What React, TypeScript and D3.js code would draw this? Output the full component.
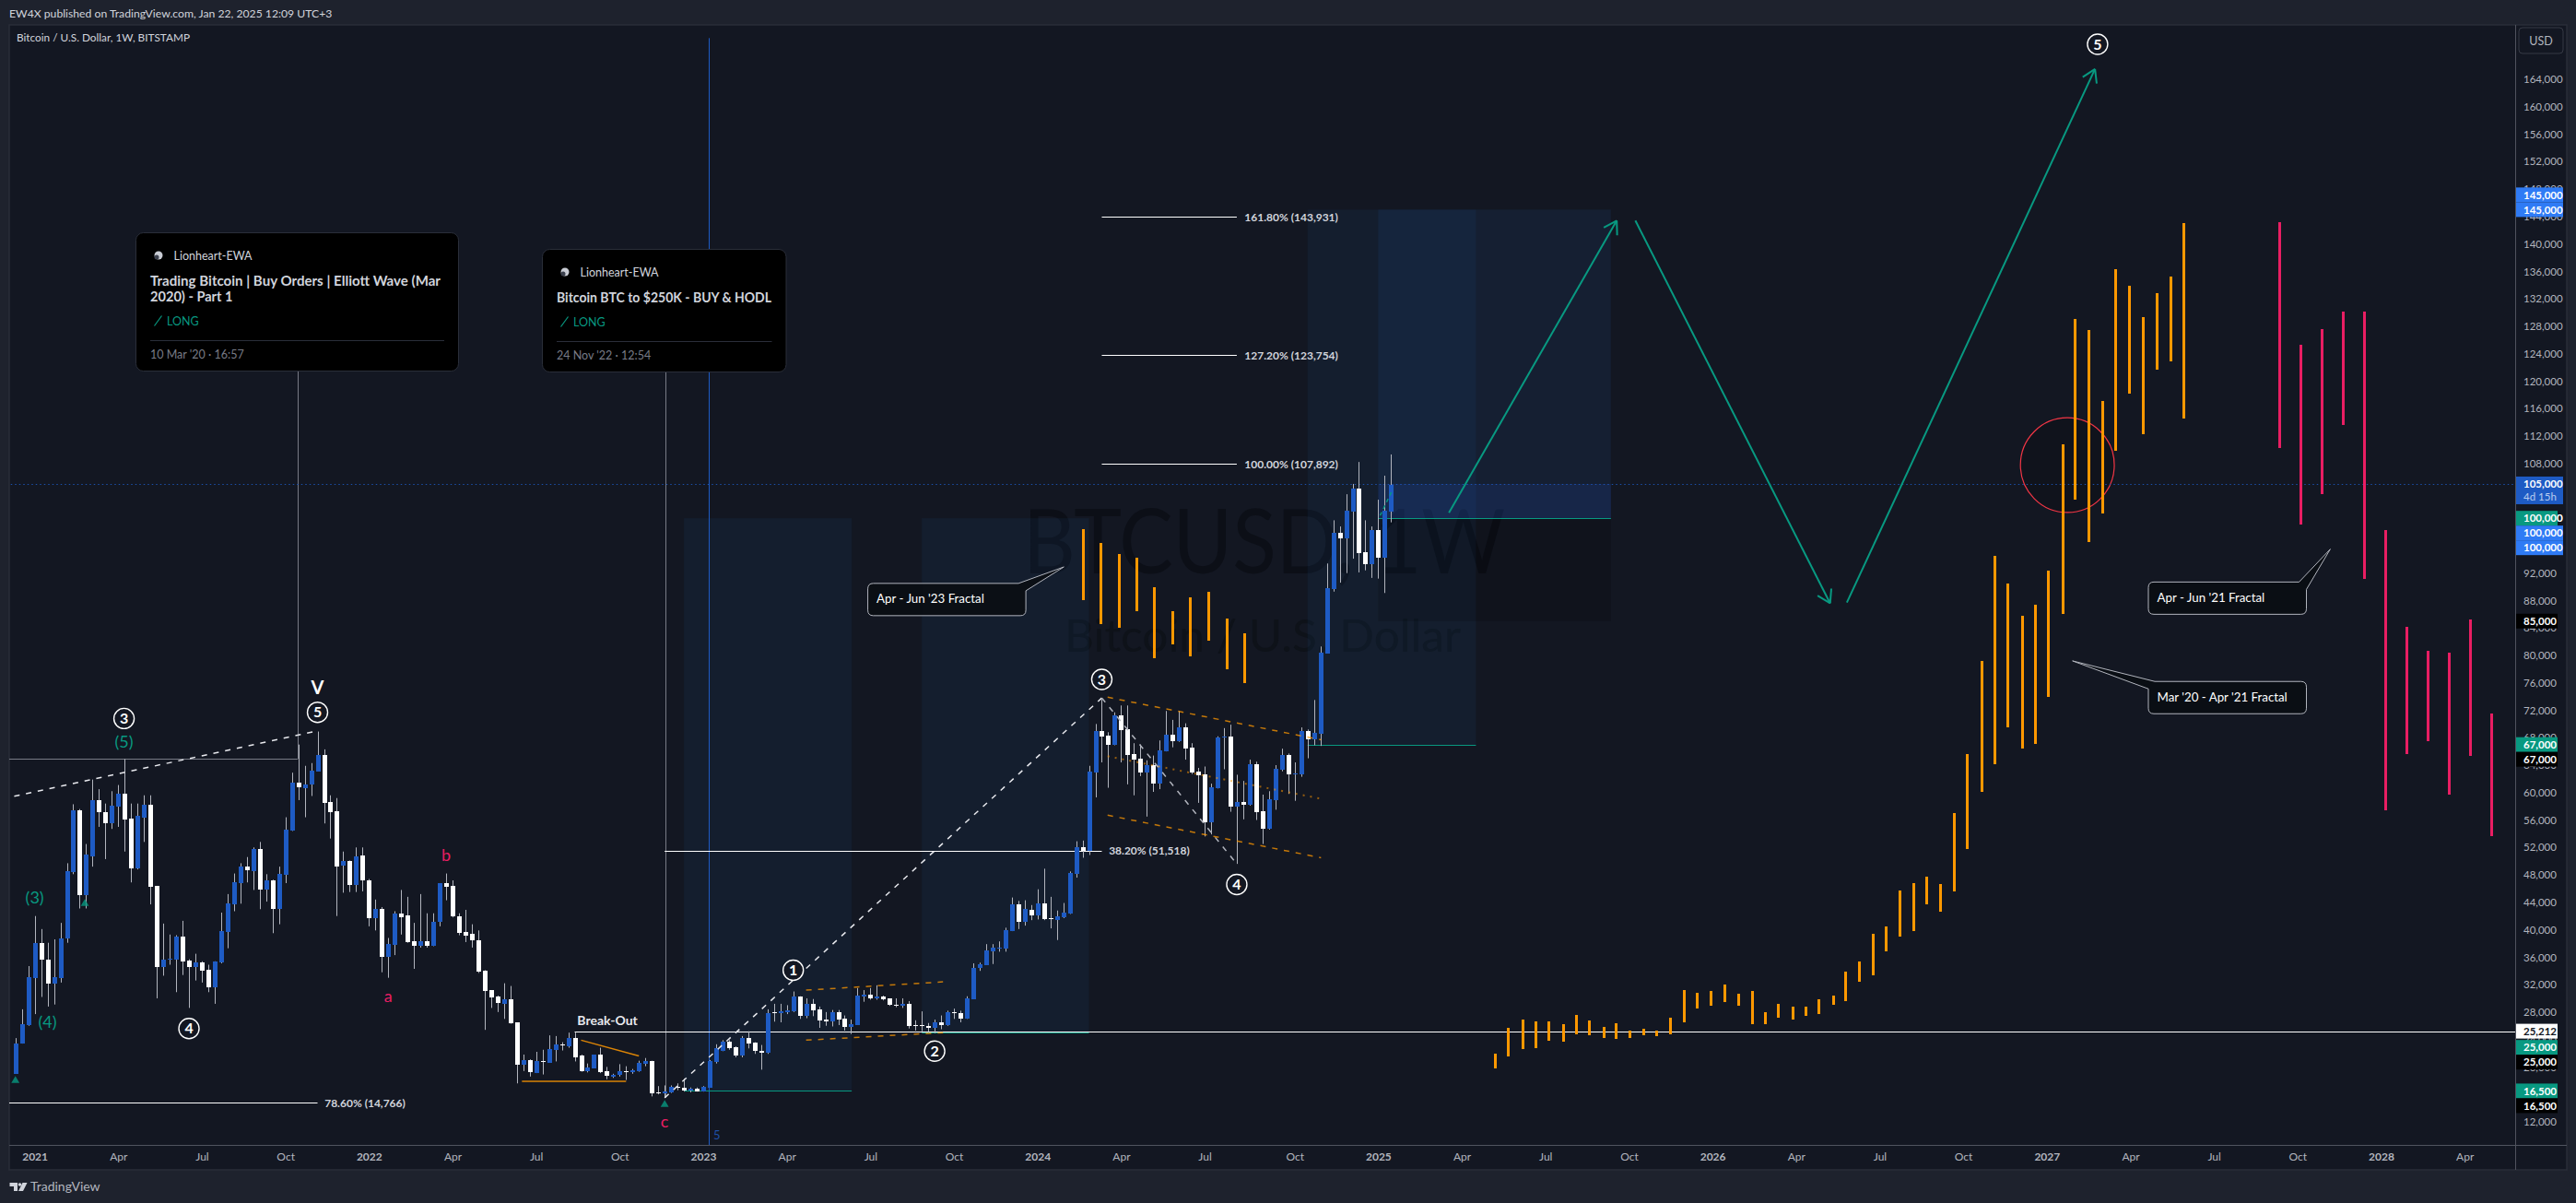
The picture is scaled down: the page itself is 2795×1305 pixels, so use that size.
/**
 * BtcWeeklyChart - Bitcoin weekly candles with Elliott Wave counts and fractal projection
 */

import { useEffect, useRef } from 'react';
import * as d3 from 'd3';

// Weekly candles, prices in thousands of USD: [open, high, low, close]. First bar is week 0 (14 Dec 2020).
const weeklyCandles: [number, number, number, number][] = [
  [19.0, 24.2, 19.0, 23.4], [23.4, 28.4, 23.4, 26.2], [26.1, 34.7, 26.0, 33.1], [33.0, 42.0, 27.7, 38.0],
  [38.0, 40.1, 30.2, 35.6], [35.7, 38.1, 28.8, 32.2], [32.2, 38.6, 29.1, 33.1], [32.9, 41.0, 32.3, 38.8],
  [38.7, 49.7, 38.1, 48.5], [48.4, 58.3, 48.1, 57.4], [57.4, 57.6, 43.1, 45.1], [45.1, 52.5, 43.1, 51.0],
  [50.7, 61.9, 49.2, 58.9], [58.9, 60.5, 55.0, 57.1], [57.2, 58.4, 50.3, 55.5], [55.5, 60.2, 54.7, 58.1],
  [57.9, 61.1, 55.0, 59.9], [59.9, 64.9, 51.4, 56.1], [56.2, 58.4, 46.9, 48.9], [48.9, 58.4, 48.8, 56.6],
  [56.4, 59.6, 52.8, 58.2], [58.2, 59.6, 43.7, 46.3], [46.4, 46.4, 30.0, 34.6], [34.6, 40.9, 33.3, 35.6],
  [35.6, 39.3, 34.9, 35.8], [35.6, 39.2, 30.9, 39.0], [39.0, 41.3, 33.4, 35.4], [35.5, 35.7, 28.6, 34.6],
  [34.6, 36.5, 32.6, 35.2], [35.2, 35.4, 32.3, 34.0], [34.2, 34.9, 30.9, 31.6], [31.6, 35.4, 29.2, 35.4],
  [35.3, 42.5, 35.1, 39.8], [39.7, 45.2, 37.3, 43.8], [43.7, 48.2, 42.7, 46.9], [46.8, 49.7, 43.8, 49.2],
  [49.2, 50.6, 46.9, 48.7], [48.6, 52.0, 45.8, 51.8], [51.8, 52.8, 43.0, 45.9], [45.9, 48.1, 44.1, 47.2],
  [47.2, 47.3, 39.5, 43.1], [43.1, 49.2, 40.8, 48.1], [48.0, 56.4, 46.8, 54.6], [54.5, 62.9, 54.4, 61.5],
  [61.5, 67.0, 58.9, 60.8], [60.6, 63.9, 56.4, 61.2], [61.2, 64.3, 59.5, 63.2], [63.1, 68.9, 63.1, 65.5],
  [65.5, 66.3, 55.5, 58.5], [58.6, 59.6, 53.3, 57.1], [57.3, 59.2, 42.0, 49.2], [49.3, 51.4, 45.4, 50.0],
  [50.0, 50.1, 45.5, 46.5], [46.5, 52.0, 45.5, 50.7], [50.8, 52.0, 45.6, 47.2], [47.2, 47.4, 40.5, 41.7],
  [41.7, 44.4, 39.9, 43.1], [43.1, 43.3, 33.8, 36.0], [36.0, 38.8, 33.0, 37.9], [37.8, 42.7, 36.3, 42.4],
  [42.4, 45.8, 39.3, 41.8], [42.1, 44.8, 38.1, 38.2], [38.3, 41.0, 34.3, 37.6], [37.6, 45.2, 37.4, 38.3],
  [38.3, 42.4, 37.4, 37.7], [37.6, 42.4, 37.6, 41.1], [41.1, 46.8, 40.5, 46.8], [46.8, 48.2, 44.3, 46.3],
  [46.4, 47.2, 41.8, 41.9], [42.0, 42.4, 39.2, 39.5], [39.7, 42.9, 38.2, 39.2], [39.4, 40.8, 37.4, 38.4],
  [38.4, 39.9, 33.7, 33.9], [34.0, 34.1, 25.4, 31.1], [31.2, 31.2, 28.6, 30.1], [30.2, 30.4, 28.0, 29.3],
  [29.2, 32.2, 27.0, 29.8], [29.8, 31.8, 26.3, 26.4], [26.5, 26.5, 17.6, 20.3], [20.3, 21.8, 19.4, 21.0],
  [21.0, 21.1, 18.6, 19.2], [19.1, 22.2, 19.1, 20.9], [20.9, 22.5, 18.9, 20.8], [20.6, 24.6, 20.6, 22.6],
  [22.5, 24.5, 20.8, 23.3], [23.3, 23.6, 22.4, 23.2], [23.0, 25.0, 22.8, 24.2], [24.2, 25.0, 20.8, 21.4],
  [21.6, 21.8, 19.3, 19.4], [19.4, 20.5, 19.2, 19.9], [19.8, 21.8, 19.8, 21.8], [21.8, 22.8, 19.1, 19.2],
  [19.4, 20.0, 18.2, 18.7], [18.6, 19.0, 18.4, 18.9], [18.9, 20.4, 18.6, 19.4], [19.4, 20.1, 18.1, 19.2],
  [19.2, 19.7, 19.0, 19.5], [19.4, 20.9, 19.3, 20.6], [20.4, 21.3, 20.1, 20.8], [20.9, 20.9, 15.7, 16.2],
  [16.3, 17.2, 16.0, 16.2], [16.1, 17.3, 15.5, 16.4], [16.3, 17.3, 16.2, 17.1], [17.1, 17.6, 16.6, 17.0],
  [17.0, 18.3, 16.4, 16.6], [16.7, 17.0, 16.3, 16.8], [16.8, 17.0, 16.4, 16.4], [16.4, 17.2, 16.4, 17.1],
  [17.0, 21.0, 17.0, 20.8], [20.7, 23.3, 20.5, 22.7], [22.4, 23.9, 22.3, 23.7], [23.7, 23.9, 22.5, 22.7],
  [22.9, 23.0, 21.4, 21.6], [21.6, 24.5, 21.4, 24.2], [24.2, 25.2, 22.7, 23.4], [23.5, 23.6, 21.9, 22.3],
  [22.3, 23.2, 19.6, 22.1], [22.1, 28.4, 21.9, 27.9], [28.0, 29.2, 26.6, 27.9], [27.9, 29.2, 26.5, 28.1],
  [28.0, 29.0, 27.7, 28.3], [28.1, 31.0, 28.0, 30.2], [30.2, 30.3, 27.0, 27.5], [27.5, 30.0, 27.1, 29.2],
  [29.2, 29.9, 27.4, 28.3], [28.4, 28.8, 25.7, 26.8], [26.9, 28.0, 26.0, 26.6], [26.7, 28.3, 25.9, 28.0],
  [28.0, 28.3, 26.1, 26.9], [27.0, 27.5, 25.3, 25.8], [25.8, 26.9, 24.8, 26.2], [26.1, 31.5, 26.1, 30.4],
  [30.3, 31.2, 29.5, 30.5], [30.5, 31.5, 29.8, 30.0], [30.1, 31.9, 29.8, 30.2], [30.3, 30.4, 29.7, 29.9],
  [30.0, 30.0, 28.9, 29.0], [29.1, 30.0, 28.7, 28.9], [28.9, 30.0, 28.6, 29.2], [29.2, 29.6, 25.6, 26.0],
  [26.1, 26.8, 25.3, 26.0], [26.1, 28.1, 25.2, 26.0], [25.9, 26.4, 25.1, 25.7], [25.7, 26.9, 24.9, 26.5],
  [26.5, 27.5, 25.5, 26.1], [26.1, 28.2, 26.0, 28.0], [28.0, 28.5, 27.0, 27.9], [27.9, 28.2, 26.5, 27.0],
  [27.0, 30.3, 27.0, 30.0], [29.9, 35.1, 29.9, 34.4], [34.4, 35.2, 34.0, 35.0], [34.9, 37.9, 34.9, 37.0],
  [36.9, 37.9, 35.0, 37.4], [37.3, 38.3, 36.8, 37.4], [37.3, 40.3, 36.8, 40.0], [39.8, 44.7, 39.8, 43.7],
  [43.7, 44.2, 40.1, 41.2], [41.2, 44.3, 40.6, 43.0], [42.9, 43.6, 41.4, 42.1], [42.1, 45.9, 41.5, 43.8],
  [43.8, 48.9, 41.4, 41.6], [41.7, 44.8, 40.2, 41.5], [41.4, 42.8, 38.5, 42.0], [41.8, 43.9, 41.7, 42.5],
  [42.4, 48.5, 42.3, 48.3], [48.2, 52.9, 47.6, 52.0], [52.0, 53.0, 50.5, 51.5], [51.5, 63.9, 50.9, 63.1],
  [62.9, 70.0, 59.3, 69.0], [69.0, 73.6, 64.4, 68.2], [68.3, 68.8, 60.7, 67.0], [67.0, 71.7, 66.9, 71.3],
  [71.3, 72.7, 64.4, 69.1], [69.2, 72.7, 61.2, 65.5], [65.6, 67.2, 59.6, 64.8], [64.9, 67.0, 62.4, 62.9],
  [62.9, 64.7, 56.5, 64.0], [64.0, 65.4, 60.1, 61.3], [61.3, 67.6, 60.5, 66.1], [66.0, 71.9, 66.0, 68.4],
  [68.4, 70.6, 66.6, 67.5], [67.5, 71.9, 67.4, 69.5], [69.5, 70.1, 64.8, 66.4], [66.5, 67.2, 62.7, 62.9],
  [63.1, 63.6, 58.5, 62.5], [62.6, 63.8, 53.6, 55.7], [55.7, 61.3, 53.9, 60.8], [60.6, 68.2, 60.6, 68.0],
  [68.0, 69.4, 63.4, 68.2], [68.2, 69.9, 57.2, 58.0], [58.0, 62.6, 49.6, 58.6], [58.6, 61.7, 56.1, 58.2],
  [58.2, 64.8, 58.1, 64.1], [64.1, 64.5, 56.0, 57.2], [57.3, 59.7, 52.5, 54.7], [54.7, 60.2, 54.6, 59.0],
  [58.9, 64.0, 57.5, 63.5], [63.3, 66.4, 63.1, 65.5], [65.5, 65.7, 59.8, 62.7], [62.7, 64.4, 58.8, 62.8],
  [62.7, 69.5, 62.3, 69.0], [69.0, 69.2, 65.0, 67.8], [67.8, 73.5, 66.9, 68.7], [68.6, 81.3, 66.8, 80.4],
  [80.3, 93.4, 80.3, 89.8], [89.7, 99.7, 89.3, 97.9], [97.9, 98.8, 90.6, 97.1], [97.1, 103.5, 92.0, 101.1],
  [101.0, 105.0, 94.1, 104.3], [104.3, 108.2, 92.1, 94.9], [95.0, 99.7, 92.4, 93.3], [93.3, 98.8, 91.3, 98.3],
  [98.3, 102.7, 91.2, 94.2], [94.2, 106.2, 89.1, 101.1], [101.0, 109.3, 99.4, 104.9],
];

// Ghost fractal bars: week position, high, low
const fractal23Weeks = [166.1, 168.8, 171.7, 174.4, 177.1, 180.0, 182.7, 185.6, 188.4, 191.1];
const fractal23High = [98.4, 96.4, 94.8, 94.2, 89.9, 86.4, 88.5, 89.3, 85.4, 83.2];
const fractal23Low = [88.1, 84.5, 84.0, 86.4, 79.6, 81.6, 79.9, 82.2, 78.0, 76.0];

const fractal20Weeks = [
  230.2, 232.2, 234.4, 236.4, 238.5, 240.7, 242.7, 244.8, 247.0, 249.0, 251.1, 253.3, 255.3, 257.4, 259.6, 261.6,
  263.7, 265.8, 268.0, 270.1, 272.1, 274.2, 276.4, 278.4, 280.5, 282.7, 284.7, 286.8, 289.0, 291.0, 293.1, 295.3,
  297.3, 299.4, 301.5, 303.6, 305.8, 307.8, 309.9, 312.1, 314.1, 316.2, 318.4, 320.3, 322.5, 324.6, 326.6, 328.8,
  330.9, 333.1, 335.2, 337.2,
];
const fractal20High = [
  21.9, 25.7, 26.9, 26.6, 26.6, 26.2, 27.6, 26.8, 25.8, 26.4, 25.3, 25.6, 25.3, 27.2, 31.2, 30.8,
  31.1, 32.0, 30.7, 31.1, 28.0, 29.2, 28.8, 28.8, 29.9, 30.4, 33.9, 35.4, 39.4, 40.5, 45.7, 46.8,
  47.7, 46.7, 57.0, 65.6, 79.2, 94.5, 90.5, 85.8, 87.4, 92.3, 110.8, 129.1, 127.4, 117.1, 136.3, 133.9,
  129.3, 132.8, 135.2, 143.0,
];
const fractal20Low = [
  19.8, 21.5, 22.6, 22.7, 23.8, 23.7, 24.8, 24.6, 24.2, 24.1, 24.2, 24.6, 24.5, 24.8, 26.5, 28.5,
  28.9, 29.5, 28.9, 26.2, 26.2, 27.2, 26.9, 27.4, 27.7, 29.1, 29.6, 32.4, 33.4, 36.9, 39.0, 39.8,
  43.7, 42.6, 45.6, 51.8, 60.1, 64.1, 69.5, 66.4, 67.1, 74.0, 86.0, 102.7, 96.5, 100.7, 109.9, 118.2,
  112.2, 121.7, 122.9, 114.5,
];

const fractal21Weeks = [352.2, 355.4, 358.8, 362.0, 365.4, 368.7, 372.0, 375.3, 378.6, 381.9, 385.2];
const fractal21High = [143.2, 125.3, 127.6, 130.1, 130.1, 98.3, 84.2, 80.7, 80.4, 85.2, 71.5];
const fractal21Low = [110.3, 99.1, 103.5, 113.6, 91.1, 57.4, 65.6, 67.5, 59.7, 65.3, 53.7];

// Time and price axes
const xTickWeeks = [3, 16, 29, 42, 55, 68, 81, 94, 107, 120, 133, 146, 159, 172, 185, 199, 212, 225, 238, 251, 264, 277, 290, 303, 316, 329, 342, 355, 368, 381];
const xTickLabels = ['2021', 'Apr', 'Jul', 'Oct', '2022', 'Apr', 'Jul', 'Oct', '2023', 'Apr', 'Jul', 'Oct', '2024', 'Apr', 'Jul', 'Oct', '2025', 'Apr', 'Jul', 'Oct', '2026', 'Apr', 'Jul', 'Oct', '2027', 'Apr', 'Jul', 'Oct', '2028', 'Apr'];
const priceTicks = d3.range(12, 165, 4);

// Long-position zones: start week, end week, entry, target
const zoneStart = [104, 141, 201, 212];
const zoneEnd = [130.1, 167, 227.2, 248.2];
const zoneEntry = [16.5, 25, 67, 100];
const zoneTarget = [100, 100, 145, 145];

// Fibonacci levels: label ratio, price, line start and end week, label week
const fibRatios = ['161.80', '127.20', '100.00', '38.20', '78.60'];
const fibPrices = [143.931, 123.754, 107.892, 51.518, 14.766];
const fibFrom = [169, 169, 169, 101, -2];
const fibTo = [190, 190, 190, 169, 47];
const fibLabelAt = [191.2, 191.2, 191.2, 170.1, 48.1];

// Wave labels
const circledWeeks = [16.9, 47, 27, 121, 143, 169, 190, 323.9];
const circledPrices = [70.8, 71.7, 25.6, 34.1, 22.3, 76.5, 46.6, 169.1];
const circledTexts = ['3', '5', '4', '1', '2', '3', '4', '5'];

const waveWeeks = [16.9, 3, 5, 58, 67, 101, 47];
const wavePrices = [67.4, 44.7, 26.6, 30.3, 50.9, 12.1, 75.3];
const waveTexts = ['(5)', '(3)', '(4)', 'a', 'b', 'c', 'V'];
const waveKinds = ['minor', 'minor', 'minor', 'abc', 'abc', 'abc', 'major'];

// Drawn lines: week, price, week, price
const whiteDashed: number[][] = [[-2, 59.1, 47, 69.0], [101, 15.5, 169, 73.8]];
const grayDashed: number[][] = [[169, 73.8, 190, 49.6]];
const orangeDashed: number[][] = [
  [123, 31.2, 144.3, 32.4], [123, 23.9, 144.3, 25.0], [169.9, 73.9, 203.1, 67.7], [169.9, 56.7, 203.1, 50.5],
];
const orangeDotted: number[][] = [[169.9, 65.3, 203.1, 59.1]];
const orangeSolid: number[][] = [[88, 23.9, 97, 21.6], [78.8, 17.9, 95, 17.9]];
const tealDashed: number[][] = [[212.3, 100.4, 214.3, 104.3]];
const tealArrows: number[][] = [
  [223, 100.8, 249.1, 143.4], [252, 143.4, 282.3, 87.6], [284.9, 87.7, 323.5, 165.5],
];

// Price scale tags: price in thousands, stack slot, fill and text colour
const tagPrices = [145, 145, 105, 100, 100, 100, 85, 67, 67, 25.212, 25, 25, 16.5, 16.5];
const tagSlots = [-1, 0, 0, 0, 1, 2, 0, 0, 1, 0, 1, 2, 0, 1];
const tagKinds = ['target', 'target', 'last', 'entry', 'target', 'target', 'stop', 'entry', 'stop', 'line', 'entry', 'stop', 'entry', 'stop'];

const COLORS = {
  page: '#1e222d',
  pane: '#131722',
  border: '#2a2e39',
  axisLine: '#50535e',
  axisText: '#b2b5be',
  text: '#d1d4dc',
  candleUp: '#1e5bc4',
  wick: '#b2b5be',
  teal: '#089981',
  orange: '#ff9800',
  pink: '#e91e63',
  lightBlue: '#2f7bf5',
  zone: '#2a6fc0',
};

const FONT = "Lato, 'Noto Sans', sans-serif";
const WIDTH = 2795;
const HEIGHT = 1305;
const PANE = { left: 10, top: 27, right: 2729, bottom: 1242 };

const TAG_STYLE: Record<string, { fill: string; text: string; right: number }> = {
  target: { fill: COLORS.lightBlue, text: '#ffffff', right: 2781 },
  last: { fill: COLORS.candleUp, text: '#ffffff', right: 2781 },
  entry: { fill: COLORS.teal, text: '#ffffff', right: 2775 },
  stop: { fill: '#000000', text: '#ffffff', right: 2775 },
  line: { fill: '#ffffff', text: '#131722', right: 2775 },
};

export default function App() {
  const svgRef = useRef<SVGSVGElement>(null);

  useEffect(() => {
    if (!svgRef.current) return;
    const svg = d3.select(svgRef.current);
    svg.selectAll('*').remove();

    const x = d3.scaleLinear().domain([0, 368]).range([16.7, 2583.5]);
    const y = d3.scaleLinear().domain([12, 164]).range([1216.9, 86]);

    svg.append('rect').attr('width', WIDTH).attr('height', HEIGHT).attr('fill', COLORS.page);
    svg.append('rect')
      .attr('x', PANE.left).attr('y', PANE.top)
      .attr('width', 2785 - PANE.left).attr('height', 1269 - PANE.top)
      .attr('fill', COLORS.pane).attr('stroke', COLORS.border).attr('stroke-width', 1.5);

    svg.append('defs').append('clipPath').attr('id', 'pane-clip').append('rect')
      .attr('x', PANE.left).attr('y', PANE.top)
      .attr('width', PANE.right - PANE.left).attr('height', PANE.bottom - PANE.top);

    const g = svg.append('g').attr('clip-path', 'url(#pane-clip)');

    // Watermark
    g.append('text')
      .attr('x', 1110).attr('y', 622)
      .attr('textLength', 523).attr('lengthAdjust', 'spacingAndGlyphs')
      .attr('font-family', FONT).attr('font-size', 96).attr('fill', '#0c0f17')
      .text('BTCUSD, 1W');
    g.append('text')
      .attr('x', 1155).attr('y', 707)
      .attr('textLength', 430).attr('lengthAdjust', 'spacingAndGlyphs')
      .attr('font-family', FONT).attr('font-size', 48).attr('fill', '#0e1219')
      .text('Bitcoin / U.S. Dollar');

    // Position zones
    zoneStart.forEach((start, i) => {
      g.append('rect')
        .attr('x', x(start)).attr('width', x(zoneEnd[i]) - x(start))
        .attr('y', y(zoneTarget[i])).attr('height', y(zoneEntry[i]) - y(zoneTarget[i]))
        .attr('fill', COLORS.zone).attr('opacity', i === 3 ? 0.1 : 0.08);
    });
    g.append('rect')
      .attr('x', x(zoneStart[3])).attr('width', x(zoneEnd[3]) - x(zoneStart[3]))
      .attr('y', y(105)).attr('height', y(100) - y(105))
      .attr('fill', '#2962ff').attr('opacity', 0.11);
    g.append('rect')
      .attr('x', x(zoneStart[3])).attr('width', x(zoneEnd[3]) - x(zoneStart[3]))
      .attr('y', y(100)).attr('height', y(85) - y(100))
      .attr('fill', '#000000').attr('opacity', 0.15);

    // Red circle behind the fractal bars
    g.append('ellipse')
      .attr('cx', x(319.2)).attr('cy', y(107.75))
      .attr('rx', x(7.3) - x(0)).attr('ry', y(100.85) - y(107.75))
      .attr('fill', '#000000').attr('fill-opacity', 0.15)
      .attr('stroke', '#f23645').attr('stroke-width', 1.2);

    // Fixed horizontal and vertical guides
    const hLine = (price: number, from: number, to: number, color: string, dash?: string, opacity = 1) => {
      g.append('line')
        .attr('x1', x(from)).attr('x2', x(to))
        .attr('y1', Math.round(y(price)) + 0.5).attr('y2', Math.round(y(price)) + 0.5)
        .attr('stroke', color).attr('stroke-opacity', opacity)
        .attr('stroke-dasharray', dash ?? null);
    };
    const vLine = (week: number, top: number, bottom: number, color: string) => {
      g.append('line')
        .attr('x1', Math.round(x(week)) + 0.5).attr('x2', Math.round(x(week)) + 0.5)
        .attr('y1', y(top)).attr('y2', y(bottom))
        .attr('stroke', color);
    };

    vLine(107.9, 170, 5, '#1e5bc4');
    vLine(43.9, 121.5, 64.9, '#787b86');
    hLine(64.9, -2, 43.9, '#787b86');
    vLine(101.1, 121.4, 15.5, '#787b86');
    hLine(105, -2, 400, '#1e5bc4', '1.5 3', 0.85);

    zoneStart.forEach((start, i) => {
      hLine(zoneEntry[i], start, zoneEnd[i], COLORS.teal);
    });
    hLine(25.212, 87, 400, '#ffffff');

    // Fib levels
    fibRatios.forEach((ratio, i) => {
      hLine(fibPrices[i], fibFrom[i], fibTo[i], '#ffffff');
      g.append('text')
        .attr('x', x(fibLabelAt[i])).attr('y', y(fibPrices[i])).attr('dy', '0.35em')
        .attr('font-family', FONT).attr('font-size', 12).attr('font-weight', 700)
        .attr('fill', COLORS.text)
        .text(`${ratio}% (${d3.format(',')(Math.round(fibPrices[i] * 1000))})`);
    });

    // Candles
    const wicks = g.append('g');
    const bodies = g.append('g').attr('shape-rendering', 'crispEdges');
    weeklyCandles.forEach(([open, high, low, close], week) => {
      const cx = Math.round(x(week));
      wicks.append('line')
        .attr('x1', cx + 0.5).attr('x2', cx + 0.5)
        .attr('y1', y(high)).attr('y2', y(low))
        .attr('stroke', COLORS.wick);
      const top = y(Math.max(open, close));
      const bottom = y(Math.min(open, close));
      bodies.append('rect')
        .attr('x', cx - 2).attr('width', 5)
        .attr('y', top).attr('height', Math.max(1.5, bottom - top))
        .attr('fill', close >= open ? COLORS.candleUp : '#ffffff');
    });

    // Fractal bars
    const drawBars = (weeks: number[], highs: number[], lows: number[], color: string) => {
      g.append('g').attr('shape-rendering', 'crispEdges')
        .selectAll('rect').data(weeks).join('rect')
        .attr('x', (d) => Math.round(x(d)) - 1).attr('width', 3)
        .attr('y', (_, i) => y(highs[i]))
        .attr('height', (_, i) => y(lows[i]) - y(highs[i]))
        .attr('fill', color);
    };
    drawBars(fractal23Weeks, fractal23High, fractal23Low, COLORS.orange);
    drawBars(fractal20Weeks, fractal20High, fractal20Low, COLORS.orange);
    drawBars(fractal21Weeks, fractal21High, fractal21Low, COLORS.pink);

    // Drawn trend lines
    const segments = (rows: number[][], color: string, width: number, dash?: string, opacity = 1) => {
      g.append('g').selectAll('line').data(rows).join('line')
        .attr('x1', (d) => x(d[0])).attr('y1', (d) => y(d[1]))
        .attr('x2', (d) => x(d[2])).attr('y2', (d) => y(d[3]))
        .attr('stroke', color).attr('stroke-width', width)
        .attr('stroke-opacity', opacity)
        .attr('stroke-dasharray', dash ?? null);
    };
    segments(whiteDashed, '#e8e9ee', 1.5, '6 7');
    segments(grayDashed, '#b2b5be', 1.5, '6 7');
    segments(orangeDashed, COLORS.orange, 1.5, '6 7', 0.75);
    segments(orangeDotted, COLORS.orange, 2, '2 6', 0.55);
    segments(orangeSolid, COLORS.orange, 1.5, undefined, 0.85);
    segments(tealDashed, COLORS.teal, 1.5, '4 4');
    segments(tealArrows, COLORS.teal, 2);

    // Arrow heads
    tealArrows.forEach(([wk1, p1, wk2, p2]) => {
      const angle = Math.atan2(y(p2) - y(p1), x(wk2) - x(wk1));
      const headSize = 16;
      [-0.55, 0.55].forEach((turn) => {
        g.append('line')
          .attr('x1', x(wk2)).attr('y1', y(p2))
          .attr('x2', x(wk2) - headSize * Math.cos(angle + turn))
          .attr('y2', y(p2) - headSize * Math.sin(angle + turn))
          .attr('stroke', COLORS.teal).attr('stroke-width', 2);
      });
    });

    // Circled wave labels
    circledWeeks.forEach((week, i) => {
      g.append('circle')
        .attr('cx', x(week)).attr('cy', y(circledPrices[i])).attr('r', 11)
        .attr('fill', COLORS.pane).attr('stroke', '#ffffff').attr('stroke-width', 1.4);
      g.append('text')
        .attr('x', x(week)).attr('y', y(circledPrices[i])).attr('dy', '0.36em')
        .attr('text-anchor', 'middle').attr('font-family', FONT)
        .attr('font-size', 16).attr('font-weight', 700).attr('fill', '#ffffff')
        .text(circledTexts[i]);
    });

    waveWeeks.forEach((week, i) => {
      const kind = waveKinds[i];
      g.append('text')
        .attr('x', x(week)).attr('y', y(wavePrices[i])).attr('dy', '0.36em')
        .attr('text-anchor', 'middle').attr('font-family', FONT)
        .attr('font-size', kind === 'major' ? 20 : 18)
        .attr('font-weight', kind === 'major' ? 700 : 400)
        .attr('fill', kind === 'major' ? '#ffffff' : kind === 'abc' ? COLORS.pink : COLORS.teal)
        .text(waveTexts[i]);
    });

    g.append('text')
      .attr('x', x(92.1)).attr('y', y(26.8)).attr('dy', '0.36em')
      .attr('text-anchor', 'middle').attr('font-family', FONT)
      .attr('font-size', 14).attr('font-weight', 700).attr('fill', '#e8e9ee')
      .text('Break-Out');

    g.append('text')
      .attr('x', x(109.1)).attr('y', y(10)).attr('dy', '0.35em')
      .attr('text-anchor', 'middle').attr('font-family', FONT)
      .attr('font-size', 13).attr('fill', '#1e4fa5')
      .text('5');

    // Small pivot markers
    [[10.8, 43.8], [0, 18], [101, 14.5]].forEach(([week, price]) => {
      g.append('path')
        .attr('d', d3.symbol(d3.symbolTriangle, 34)())
        .attr('transform', `translate(${x(week)},${y(price)})`)
        .attr('fill', COLORS.teal).attr('opacity', 0.8);
    });

    // Fractal callouts
    const callout = (
      leftWeek: number, topPrice: number, tipWeek: number, tipPrice: number,
      label: string, pointer: 'right' | 'left',
    ) => {
      const l = x(leftWeek);
      const t = y(topPrice);
      const r = l + 171.5;
      const b = t + 35;
      const tip = `${x(tipWeek)},${y(tipPrice)}`;
      const d = pointer === 'right'
        ? `M${l + 6},${t}L${r - 8},${t}L${tip}L${r},${t + 8}L${r},${b - 6}Q${r},${b} ${r - 6},${b}L${l + 6},${b}Q${l},${b} ${l},${b - 6}L${l},${t + 6}Q${l},${t} ${l + 6},${t}Z`
        : `M${l + 7},${t}L${r - 6},${t}Q${r},${t} ${r},${t + 6}L${r},${b - 6}Q${r},${b} ${r - 6},${b}L${l + 6},${b}Q${l},${b} ${l},${b - 6}L${l},${t + 8}L${tip}Z`;
      g.append('path')
        .attr('d', d).attr('fill', '#0a0d13').attr('fill-opacity', 0.9)
        .attr('stroke', '#b2b5be').attr('stroke-width', 1);
      g.append('text')
        .attr('x', l + 9.5).attr('y', t + 21.5)
        .attr('font-family', FONT).attr('font-size', 13.3).attr('fill', '#ffffff')
        .text(label);
    };
    callout(132.6, 90.5, 163.1, 92.9, "Apr - Jun '23 Fractal", 'right');
    callout(331.8, 90.7, 360.1, 95.5, "Apr - Jun '21 Fractal", 'right');
    callout(331.8, 76.2, 320, 79.2, "Mar '20 - Apr '21 Fractal", 'left');

    // Published idea cards
    const card = (
      left: number, top: number, width: number, height: number,
      titleLines: string[], titleLengths: number[], titleY: number, date: string,
    ) => {
      const bottom = top + height;
      const c = svg.append('g');
      c.append('rect')
        .attr('x', left).attr('y', top).attr('width', width).attr('height', height)
        .attr('rx', 8).attr('fill', '#000000').attr('stroke', COLORS.border);
      c.append('circle').attr('cx', left + 24.5).attr('cy', top + 24.5).attr('r', 4.5).attr('fill', '#c9ccd4');
      c.append('circle').attr('cx', left + 22.5).attr('cy', top + 26.5).attr('r', 2.5).attr('fill', '#3a3f4c');
      c.append('text')
        .attr('x', left + 41).attr('y', top + 29)
        .attr('font-family', FONT).attr('font-size', 12.5).attr('fill', COLORS.text)
        .text('Lionheart-EWA');
      titleLines.forEach((line, i) => {
        c.append('text')
          .attr('x', left + 15.5).attr('y', titleY + i * 17)
          .attr('textLength', titleLengths[i]).attr('lengthAdjust', 'spacingAndGlyphs')
          .attr('font-family', FONT).attr('font-size', 14.5).attr('font-weight', 700)
          .attr('fill', COLORS.text)
          .text(line);
      });
      c.append('path')
        .attr('d', `M${left + 20},${bottom - 49}L${left + 28},${bottom - 60}`)
        .attr('stroke', COLORS.teal).attr('stroke-width', 1.2);
      c.append('text')
        .attr('x', left + 33.5).attr('y', bottom - 49.5)
        .attr('font-family', FONT).attr('font-size', 12.5).attr('fill', COLORS.teal)
        .text('LONG');
      c.append('line')
        .attr('x1', left + 15.5).attr('x2', left + width - 15.5)
        .attr('y1', bottom - 33).attr('y2', bottom - 33)
        .attr('stroke', COLORS.border);
      c.append('text')
        .attr('x', left + 15.5).attr('y', bottom - 13.5)
        .attr('font-family', FONT).attr('font-size', 12.5).attr('fill', '#787b86')
        .text(date);
    };
    card(147.5, 252.5, 350, 150, ['Trading Bitcoin | Buy Orders | Elliott Wave (Mar', '2020) - Part 1'], [315, 89.5], 310, "10 Mar '20 · 16:57");
    card(588.5, 270.5, 264.5, 133, ['Bitcoin BTC to $250K - BUY & HODL'], [233], 327.5, "24 Nov '22 · 12:54");

    // Axis lines
    svg.append('line')
      .attr('x1', PANE.left).attr('x2', 2785)
      .attr('y1', PANE.bottom + 0.5).attr('y2', PANE.bottom + 0.5)
      .attr('stroke', COLORS.axisLine);
    svg.append('line')
      .attr('x1', PANE.right + 0.5).attr('x2', PANE.right + 0.5)
      .attr('y1', PANE.top).attr('y2', 1269)
      .attr('stroke', COLORS.axisLine);

    // Time axis
    const timeAxis = svg.append('g')
      .attr('transform', `translate(0,${PANE.bottom})`)
      .call(
        d3.axisBottom(x)
          .tickValues(xTickWeeks)
          .tickFormat((_, i) => xTickLabels[i])
          .tickSize(0)
          .tickPadding(8),
      );
    timeAxis.select('.domain').remove();
    timeAxis.selectAll<SVGTextElement, number>('text')
      .attr('font-family', FONT).attr('font-size', 12).attr('fill', COLORS.axisText)
      .attr('font-weight', (_, i) => (/^\d/.test(xTickLabels[i]) ? 700 : 400));

    // Price axis
    const priceAxis = svg.append('g')
      .attr('transform', `translate(${PANE.right},0)`)
      .call(
        d3.axisRight(y)
          .tickValues(priceTicks)
          .tickFormat((d) => d3.format(',')(Number(d) * 1000))
          .tickSize(0)
          .tickPadding(9),
      );
    priceAxis.select('.domain').remove();
    priceAxis.selectAll('text')
      .attr('font-family', FONT).attr('font-size', 11.5).attr('fill', COLORS.axisText);

    svg.append('rect')
      .attr('x', 2733).attr('y', 30).attr('width', 48).attr('height', 28).attr('rx', 4)
      .attr('fill', COLORS.pane).attr('stroke', '#363a45');
    svg.append('text')
      .attr('x', 2757).attr('y', 44).attr('dy', '0.36em').attr('text-anchor', 'middle')
      .attr('font-family', FONT).attr('font-size', 12.5).attr('fill', COLORS.axisText)
      .text('USD');

    // Price tags
    tagPrices.forEach((price, i) => {
      const style = TAG_STYLE[tagKinds[i]];
      const cy = y(price) + tagSlots[i] * 16;
      const tall = tagKinds[i] === 'last';
      svg.append('rect')
        .attr('x', PANE.right + 1).attr('width', style.right - PANE.right - 1)
        .attr('y', cy - 8).attr('height', tall ? 30 : 16)
        .attr('fill', style.fill);
      svg.append('text')
        .attr('x', PANE.right + 9).attr('y', cy).attr('dy', '0.36em')
        .attr('font-family', FONT).attr('font-size', 11.5).attr('font-weight', 700)
        .attr('fill', style.text)
        .text(d3.format(',')(Math.round(price * 1000)));
      if (tall) {
        svg.append('text')
          .attr('x', PANE.right + 9).attr('y', cy + 14).attr('dy', '0.36em')
          .attr('font-family', FONT).attr('font-size', 11.5)
          .attr('fill', '#b9cdf0')
          .text('4d 15h');
      }
    });

    // Header and footer
    svg.append('text')
      .attr('x', 10).attr('y', 19)
      .attr('font-family', FONT).attr('font-size', 12.2).attr('fill', COLORS.text)
      .text('EW4X published on TradingView.com, Jan 22, 2025 12:09 UTC+3');
    svg.append('text')
      .attr('x', 18).attr('y', 45)
      .attr('font-family', FONT).attr('font-size', 11.8).attr('fill', COLORS.text)
      .text('Bitcoin / U.S. Dollar, 1W, BITSTAMP');

    svg.append('path')
      .attr('d', 'M10.5,1283H19V1292H15V1287H10.5Z M24.5,1283H29.5L25,1292H20Z')
      .attr('fill', COLORS.text);
    svg.append('circle').attr('cx', 21.5).attr('cy', 1285).attr('r', 1.8).attr('fill', COLORS.text);
    svg.append('text')
      .attr('x', 33).attr('y', 1292)
      .attr('font-family', FONT).attr('font-size', 14).attr('fill', COLORS.axisText)
      .text('TradingView');
  }, []);

  return (
    <div style={{ position: 'absolute', left: 0, top: 0 }}>
      <svg ref={svgRef} width={WIDTH} height={HEIGHT} style={{ display: 'block' }} role="img" aria-label="Bitcoin weekly chart with Elliott Wave counts and fractal projection" />
    </div>
  );
}
